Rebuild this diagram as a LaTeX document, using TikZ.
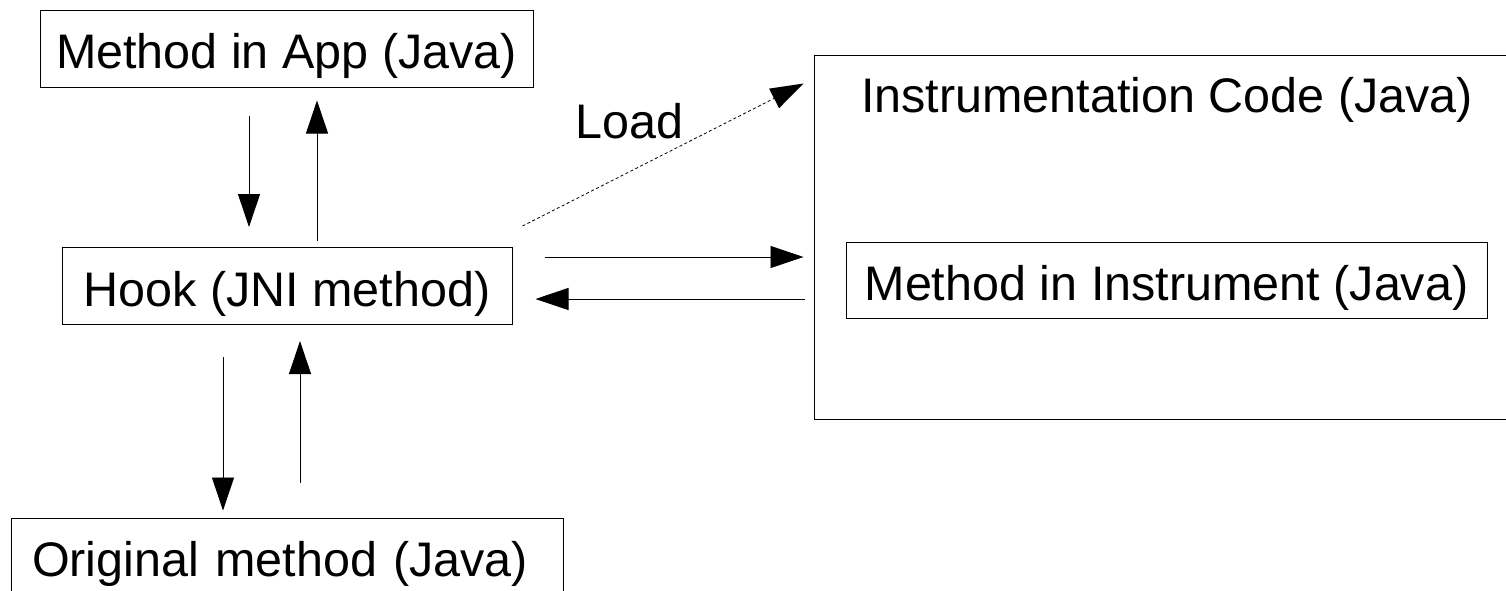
\documentclass[tikz,border=0pt]{standalone}
\usepackage{fontspec}
\setmainfont{Liberation Sans}
\usetikzlibrary{arrows.meta,calc}
\begin{document}
\begin{tikzpicture}[x=1pt,y=-1pt,
  lbl/.style={font=\fontsize{48.5}{58}\selectfont},
  box/.style={draw=black, line width=1pt, inner sep=0pt, minimum height=77pt,
              text height=40pt, text depth=0pt, lbl},
  arr/.style={line width=0.9pt, -{Triangle[length=33pt,width=22pt]}},
  loadarr/.style={line width=0.8pt, dash pattern=on 3pt off 2.5pt,
              -{Triangle[length=33pt,width=22pt,line width=0pt]}}]

% page area
\clip (0,0) rectangle (1506,590);
\fill[white] (0,0) rectangle (1506,590);

% boxes on the left
\node[box, minimum width=493pt] (app)  at (286.5,48.5) {Method in App (Java)};
\node[box, minimum width=450pt] (hook) at (287,286)    {Hook (JNI method)};
\node[box, inner xsep=21pt, text width=510pt, align=left] (orig) at (287,556.5)
      {Original method (Java)};

% instrumentation code area with its method box
\node[draw=black, line width=1pt, minimum width=720pt, minimum height=364pt,
      inner sep=0pt] (big) at (1174,237) {};
\node[lbl, inner sep=0pt, anchor=base] (title) at (1167,112)
      {Instrumentation Code (Java)};
\node[box, minimum width=641pt, minimum height=76pt] (meth) at (1166.5,280)
      {Method in Instrument (Java)};

% vertical connector columns
\coordinate (c1) at (249,0);
\coordinate (c2) at (317,0);
\coordinate (c3) at (223,0);
\coordinate (c4) at (300,0);
% horizontal connector rows
\coordinate (r1) at (0,257);
\coordinate (r2) at (0,299);

% calls between app method and hook
\draw[arr, shorten <=28pt, shorten >=20pt] (app.south -| c1) -- (hook.north -| c1);
\draw[arr, shorten <=6pt,  shorten >=13pt] (hook.north -| c2) -- (app.south -| c2);

% calls between hook and original method
\draw[arr, shorten <=32pt, shorten >=7pt]  (hook.south -| c3) -- (orig.north -| c3);
\draw[arr, shorten <=35pt, shorten >=16pt] (orig.north -| c4) -- (hook.south -| c4);

% calls between hook and instrumentation code
\draw[arr, shorten <=32pt, shorten >=10pt] (hook.east |- r1) -- (big.west |- r1);
\draw[arr, shorten <=9pt,  shorten >=23pt] (big.west |- r2) -- (hook.east |- r2);

% loading the instrumentation code
\draw[loadarr] ($(hook.north east)+(10,-21)$) -- ($(big.north west)+(-10,29)$);
\node[lbl, inner sep=0pt, anchor=base west] (load) at (575,138) {Load};

\end{tikzpicture}
\end{document}
